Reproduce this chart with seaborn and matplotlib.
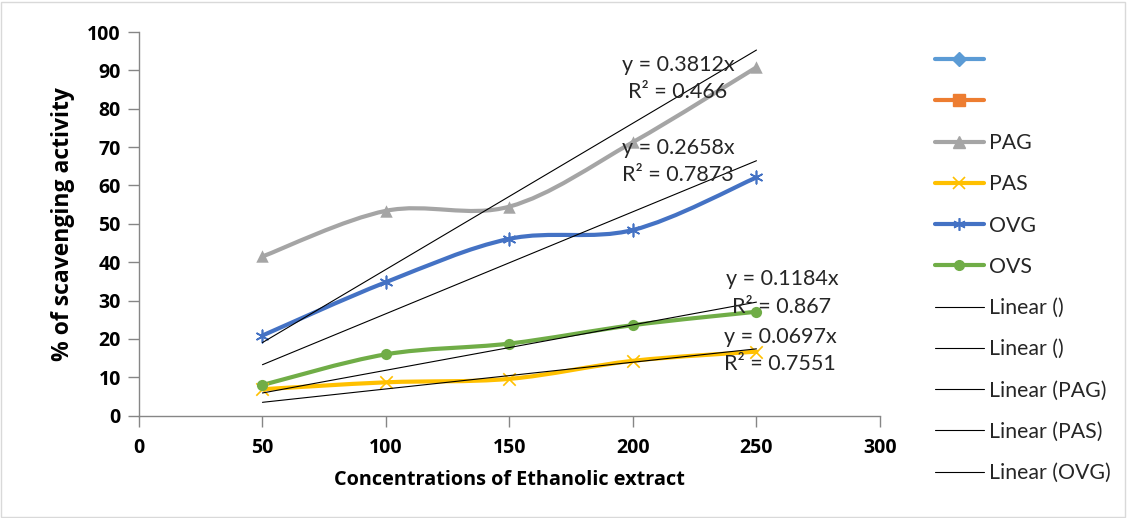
import numpy as np
import pandas as pd
import matplotlib
matplotlib.use("Agg")
import matplotlib.pyplot as plt
import seaborn as sns
from matplotlib.path import Path
from matplotlib.patches import PathPatch, Rectangle
from matplotlib.lines import Line2D
from matplotlib.font_manager import FontProperties

# ---------------- data ----------------
concentrations = [50, 100, 150, 200, 250]
pag = [41.5, 53.4, 54.5, 71.3, 90.8]
pas = [6.9, 8.7, 9.6, 14.3, 16.7]
ovg = [20.9, 34.8, 46.1, 48.4, 62.1]
ovs = [8.0, 16.0, 18.8, 23.6, 27.1]
series_names = ["PAG", "PAS", "OVG", "OVS"]
slopes = {"PAG": 0.3812, "OVG": 0.2658, "OVS": 0.1184, "PAS": 0.0697}
r2 = {"PAG": 0.466, "OVG": 0.7873, "OVS": 0.867, "PAS": 0.7551}
x_ticks = [0, 50, 100, 150, 200, 250, 300]
y_ticks = [0, 10, 20, 30, 40, 50, 60, 70, 80, 90, 100]
legend_labels = ["", "", "PAG", "PAS", "OVG", "OVS",
                 "Linear ()", "Linear ()", "Linear (PAG)", "Linear (PAS)", "Linear (OVG)"]

colors = {"PAG": "#A5A5A5", "PAS": "#FFC000", "OVG": "#4472C4", "OVS": "#70AD47"}
markers = {"PAG": "^", "PAS": "x", "OVG": (6, 2, 0), "OVS": "o"}

df = pd.DataFrame({"conc": concentrations, "PAG": pag, "PAS": pas, "OVG": ovg, "OVS": ovs})
long = df.melt(id_vars="conc", var_name="series", value_name="value")

sns.set_theme(style="white")
# bold Open Sans as the default (axis labels and tick labels)
plt.rcParams["font.family"] = ["Open Sans", "DejaVu Sans"]
plt.rcParams["font.weight"] = "bold"
plt.rcParams["axes.labelweight"] = "bold"
REG = ["Lato", "DejaVu Sans"]

fig = plt.figure(figsize=(11.27, 5.18), dpi=100)
ax = fig.add_axes([0.1233, 0.1975, 0.6575, 0.7407])

# smooth (Excel-like) curves built as Bezier paths in data space
def smooth_path(xs, ys):
    pts = np.column_stack([xs, ys]).astype(float)
    n = len(pts)
    verts = [pts[0]]
    codes = [Path.MOVETO]
    for i in range(n - 1):
        p0 = pts[i - 1] if i > 0 else pts[i]
        p1 = pts[i]
        p2 = pts[i + 1]
        p3 = pts[i + 2] if i + 2 < n else pts[i + 1]
        c1 = p1 + (p2 - p0) / 6.0
        c2 = p2 - (p3 - p1) / 6.0
        verts += [c1, c2, p2]
        codes += [Path.CURVE4] * 3
    return Path(verts, codes)

for name in series_names:
    sub = long[long.series == name]
    ax.add_patch(PathPatch(smooth_path(sub.conc.values, sub.value.values),
                           fill=False, edgecolor=colors[name], lw=3, zorder=3,
                           capstyle="round", joinstyle="round"))

for name in series_names:
    sub = long[long.series == name]
    lw = 1.2 if name in ("PAS", "OVG") else 0
    sns.scatterplot(data=sub, x="conc", y="value", ax=ax, color=colors[name],
                    marker=markers[name], s=80 if name != "OVS" else 65,
                    linewidth=lw, edgecolor=colors[name] if lw == 0 else None,
                    zorder=4, legend=False)

# linear trendlines through origin
xfit = np.array([min(concentrations), max(concentrations)])
for name in ["PAG", "OVG", "OVS", "PAS"]:
    sns.lineplot(x=xfit, y=slopes[name] * xfit, ax=ax, color="black", lw=0.8,
                 zorder=5, legend=False)

ax.set_xlim(0, 300)
ax.set_ylim(0, 100)
ax.set_xticks(x_ticks)
ax.set_yticks(y_ticks)
ax.set_xlabel("Concentrations of Ethanolic extract", fontsize=14.3, fontweight="bold",
              color="black", labelpad=9)
ax.set_ylabel("% of scavenging activity", fontsize=16.5, fontweight="bold",
              color="black", labelpad=9)
ax.tick_params(axis="both", direction="out", length=8, width=1, color="#868686",
               bottom=True, left=True, labelsize=14, labelcolor="black")
ax.tick_params(axis="x", pad=8)
ax.tick_params(axis="y", pad=5)
for s in ["top", "right"]:
    ax.spines[s].set_visible(False)
for s in ["left", "bottom"]:
    ax.spines[s].set_color("#868686")
    ax.spines[s].set_linewidth(1)
ax.grid(False)

# equation labels
eqs = [("PAG", 678, 65, 92), ("OVG", 678, 148, 175), ("OVS", 782, 279, 307), ("PAS", 780, 337, 364)]
for name, xc, y1, y2 in eqs:
    fig.text(xc / 1127, 1 - y1 / 518, f"y = {slopes[name]}x", ha="center", va="center",
             fontsize=15.5, color="#262626", family=REG, fontweight="normal")
    fig.text(xc / 1127, 1 - y2 / 518, f"R² = {r2[name]}", ha="center", va="center",
             fontsize=15.5, color="#262626", family=REG, fontweight="normal")

# legend
handles = [
    Line2D([], [], color="#5B9BD5", lw=3, marker="D", ms=7),
    Line2D([], [], color="#ED7D31", lw=3, marker="s", ms=8),
    Line2D([], [], color=colors["PAG"], lw=3, marker="^", ms=8),
    Line2D([], [], color=colors["PAS"], lw=3, marker="x", ms=8, mew=1.2),
    Line2D([], [], color=colors["OVG"], lw=3, marker=(6, 2, 0), ms=9, mew=1.2),
    Line2D([], [], color=colors["OVS"], lw=3, marker="o", ms=7),
] + [Line2D([], [], color="black", lw=0.8) for _ in range(5)]
leg = fig.legend(handles, legend_labels, loc="upper left",
                 bbox_to_anchor=(935 / 1127, 1 - 50.5 / 518), frameon=False,
                 prop=FontProperties(family=REG, weight="normal", size=15.3),
                 handlelength=2.3, handletextpad=0.24,
                 labelspacing=1.0, borderpad=0, borderaxespad=0)
for t in leg.get_texts():
    t.set_color("#262626")

# chart area border
fig.patches.append(Rectangle((0.001, 0.002), 0.997, 0.995, transform=fig.transFigure,
                             fill=False, edgecolor="#D9D9D9", lw=1))

fig.savefig("out.png", dpi=100)
